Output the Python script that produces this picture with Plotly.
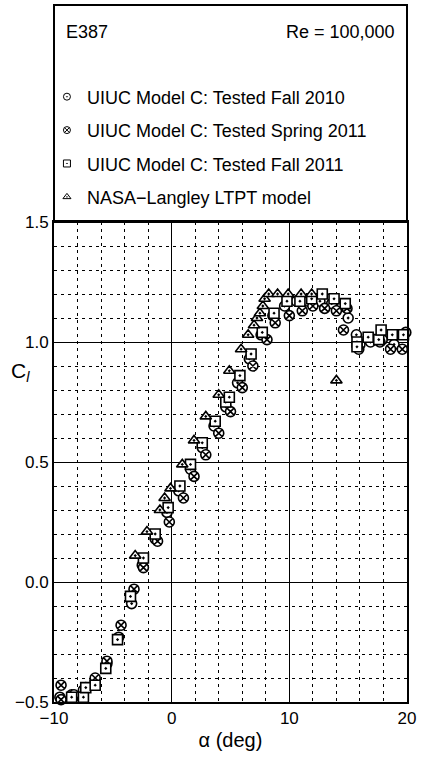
import plotly.graph_objects as go

# ---- data ----
fall2010_alpha = [-9.5, -8.5, -7.5, -6.5, -5.5, -4.5, -3.4, -2.5, -1.4, -0.4, 0.6, 1.6, 2.6, 3.6, 4.6,
                  5.6, 6.6, 7.6, 8.6, 9.6, 10.6, 11.6, 12.6, 13.6, 14.5, 15.0, 15.7, 15.9, 16.9, 17.9, 18.9, 19.9]
fall2010_cl = [-0.48, -0.47, -0.45, -0.41, -0.34, -0.23, -0.09, 0.07, 0.18, 0.29, 0.38, 0.47, 0.56, 0.65, 0.73,
               0.83, 0.93, 1.03, 1.11, 1.15, 1.17, 1.17, 1.17, 1.16, 1.15, 1.10, 1.03, 0.97, 1.00, 1.01, 0.99, 1.04]

spring2011_alpha = [-9.4, -9.4, -8.3, -7.3, -6.5, -5.5, -4.3, -3.2, -2.4, -1.2, -0.2, 1.0, 1.9, 2.9, 4.0,
                    5.0, 6.0, 6.9, 8.1, 8.8, 10.0, 11.1, 12.0, 13.0, 14.0, 14.9, 14.6, 16.0, 17.7, 18.6, 19.6]
spring2011_cl = [-0.43, -0.49, -0.47, -0.44, -0.40, -0.33, -0.18, -0.03, 0.06, 0.17, 0.25, 0.35, 0.44, 0.53, 0.62,
                 0.71, 0.81, 0.90, 1.01, 1.08, 1.11, 1.13, 1.15, 1.14, 1.13, 1.14, 1.05, 0.99, 1.00, 0.97, 0.97]

fall2011_alpha = [-8.5, -7.5, -7.3, -6.5, -5.6, -4.6, -3.5, -2.4, -1.4, -0.3, 0.7, 1.6, 2.6, 3.7, 4.6,
                  4.9, 5.8, 6.75, 7.7, 8.7, 9.8, 10.9, 11.9, 12.8, 13.8, 14.75, 15.75, 15.75, 16.7, 17.6, 17.8, 18.75, 19.7]
fall2011_cl = [-0.48, -0.48, -0.44, -0.43, -0.36, -0.24, -0.06, 0.10, 0.20, 0.31, 0.40, 0.49, 0.58, 0.67, 0.75,
               0.77, 0.86, 0.95, 1.04, 1.12, 1.17, 1.17, 1.18, 1.20, 1.18, 1.16, 1.00, 0.98, 1.02, 1.01, 1.05, 1.03, 1.03]

nasa_alpha = [-3.1, -2.1, -1.0, -0.6, -0.1, 0.9, 1.9, 2.9, 4.0, 4.9, 5.9, 6.5, 7.0, 7.25, 7.5, 7.75,
              7.9, 8.25, 9.0, 9.9, 11.0, 11.9, 14.0]
nasa_cl = [0.11, 0.21, 0.30, 0.35, 0.39, 0.49, 0.59, 0.69, 0.78, 0.88, 0.97, 1.03, 1.07, 1.10, 1.12, 1.15,
           1.18, 1.20, 1.20, 1.20, 1.20, 1.20, 0.84]

series_names = ["UIUC Model C: Tested Fall 2010", "UIUC Model C: Tested Spring 2011",
                "UIUC Model C: Tested Fall 2011", "NASA\u2212Langley LTPT model"]
series_symbols = ["circle-dot", "circle-x", "square-dot", "triangle-up-dot"]

x_ticks = [-10, 0, 10, 20]
y_ticks = [-0.5, 0.0, 0.5, 1.0, 1.5]

FONT = "Liberation Sans, Arial, sans-serif"

fig = go.Figure()
data = [(fall2010_alpha, fall2010_cl), (spring2011_alpha, spring2011_cl),
        (fall2011_alpha, fall2011_cl), (nasa_alpha, nasa_cl)]
for i, ((a, c), name, sym) in enumerate(zip(data, series_names, series_symbols)):
    fig.add_trace(go.Scatter(
        x=a, y=c, mode="markers", name=name, legendgroup=f"g{i}", showlegend=False,
        marker=dict(symbol=sym, size=10, color="white", line=dict(color="black", width=1.6)),
        cliponaxis=False,
    ))
    # small legend symbol for the same series
    fig.add_trace(go.Scatter(
        x=[None], y=[None], mode="markers", name=name, legendgroup=f"g{i}", showlegend=True,
        marker=dict(symbol=sym, size=7, color="white", line=dict(color="black", width=1)),
    ))

fig.update_xaxes(range=[-10, 20], tickvals=x_ticks, ticktext=[f"{v:g}".replace("-", "\u2212") for v in x_ticks],
                 showgrid=True, gridcolor="black", gridwidth=1,
                 minor=dict(dtick=2, tick0=0, showgrid=True, gridcolor="black", gridwidth=1, griddash="3px,4px"),
                 showline=True, linecolor="black", linewidth=2, mirror=True, zeroline=False,
                 ticks="", tickfont=dict(family=FONT, size=17, color="black"),
                 title=dict(text="\u03b1 (deg)", font=dict(family=FONT, size=20, color="black"), standoff=6))
fig.update_yaxes(range=[-0.5, 1.5], tickvals=y_ticks, ticktext=[f"{v:.1f}".replace("-", "\u2212") for v in y_ticks],
                 showgrid=True, gridcolor="black", gridwidth=1,
                 minor=dict(dtick=0.1, tick0=0, showgrid=True, gridcolor="black", gridwidth=1, griddash="3px,4px"),
                 showline=True, linecolor="black", linewidth=2, mirror=True, zeroline=False,
                 ticks="", tickfont=dict(family=FONT, size=17, color="black"))

# box above plot area
fig.add_shape(type="rect", xref="paper", yref="paper", x0=0, x1=1, y0=1, y1=1 + 217 / 480,
              line=dict(color="black", width=2), fillcolor="rgba(0,0,0,0)")

fig.add_annotation(text="E387", xref="paper", yref="paper", x=0.028, y=1 + 190 / 480,
                   xanchor="left", yanchor="middle", showarrow=False,
                   font=dict(family=FONT, size=18, color="black"))
fig.add_annotation(text="Re = 100,000", xref="paper", yref="paper", x=0.972, y=1 + 190 / 480,
                   xanchor="right", yanchor="middle", showarrow=False,
                   font=dict(family=FONT, size=18, color="black"))
fig.add_annotation(text="C<sub><i>l</i></sub>", xref="paper", yref="paper", x=-0.095, y=(702 - 372) / 480,
                   xanchor="center", yanchor="middle", showarrow=False,
                   font=dict(family=FONT, size=21, color="black"))

fig.update_layout(
    width=428, height=769,
    margin=dict(l=54, r=14, t=222, b=67),
    plot_bgcolor="white", paper_bgcolor="white",
    showlegend=True,
    legend=dict(x=-0.02, y=1.299, xanchor="left", yanchor="top",
                bgcolor="rgba(0,0,0,0)", borderwidth=0, tracegroupgap=7,
                font=dict(family=FONT, size=18, color="black"), itemsizing="trace"),
)

fig.write_html("out.html")
